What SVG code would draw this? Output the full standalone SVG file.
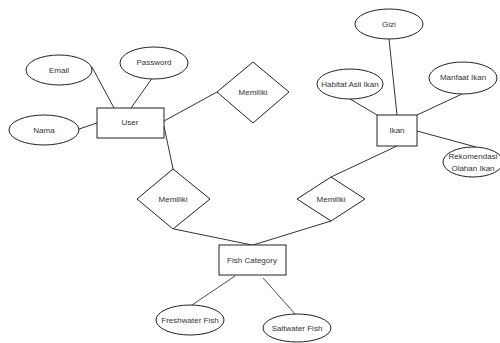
<svg xmlns="http://www.w3.org/2000/svg" width="500" height="343" viewBox="0 0 500 343">
<style>
.s{fill:#fff;stroke:#222;stroke-width:1}
.t{font-family:"Liberation Sans",Arial,sans-serif;font-size:8px;fill:#333;text-anchor:middle;dominant-baseline:central}
.c line{stroke:#333;stroke-width:1}
.c line.b{stroke:#4a4e6a}
</style>
<rect width="500" height="343" fill="#fff"/>
<g class="c">
<line x1="92" y1="67" x2="114" y2="108"/>
<line x1="153" y1="77" x2="131" y2="108"/>
<line x1="79" y1="129" x2="97" y2="123"/>
<line x1="164" y1="121" x2="217" y2="92"/>
<line x1="164" y1="126" x2="173" y2="169"/>
<line x1="174" y1="229" x2="252" y2="245"/>
<line x1="331" y1="221" x2="253" y2="245"/>
<line x1="331" y1="177" x2="397" y2="146"/>
<line x1="389" y1="39" x2="397" y2="115"/>
<line x1="350" y1="99" x2="377" y2="115"/>
<line x1="462" y1="94" x2="417" y2="115"/>
<line x1="417" y1="131" x2="476" y2="147"/>
<line class="b" x1="235" y1="276" x2="192" y2="305"/>
<line class="b" x1="263" y1="278" x2="296" y2="315"/>
</g>
<g id="email"><ellipse class="s" cx="59" cy="70" rx="33" ry="15"/><text class="t" x="59" y="70">Email</text></g>
<g id="password"><ellipse class="s" cx="154" cy="63" rx="34" ry="16"/><text class="t" x="154" y="62">Password</text></g>
<g id="nama"><ellipse class="s" cx="44" cy="130" rx="35" ry="15"/><text class="t" x="44" y="130">Nama</text></g>
<g id="user"><rect class="s" x="97" y="108" width="67" height="30"/><text class="t" x="130" y="122">User</text></g>
<g id="memiliki1"><polygon class="s" points="253,62 289,92 253,123 217,92"/><text class="t" x="253" y="92">Memiliki</text></g>
<g id="memiliki2"><polygon class="s" points="173,169 210,199 173,229 137,199"/><text class="t" x="173" y="199">Memiliki</text></g>
<g id="memiliki3"><polygon class="s" points="331,177 365,199 331,221 297,199"/><text class="t" x="331" y="199">Memiliki</text></g>
<g id="fishcategory"><rect class="s" x="219" y="245" width="67" height="30"/><text class="t" x="252" y="260">Fish Category</text></g>
<g id="freshwater"><ellipse class="s" cx="190" cy="320" rx="34" ry="15"/><text class="t" x="190" y="320">Freshwater Fish</text></g>
<g id="saltwater"><ellipse class="s" cx="297" cy="328" rx="34" ry="14"/><text class="t" x="297" y="328">Saltwater Fish</text></g>
<g id="ikan"><rect class="s" x="377" y="115" width="40" height="31"/><text class="t" x="397" y="130">Ikan</text></g>
<g id="gizi"><ellipse class="s" cx="389" cy="24" rx="34" ry="15"/><text class="t" x="389" y="24">Gizi</text></g>
<g id="habitat"><ellipse class="s" cx="350" cy="84" rx="33" ry="15"/><text class="t" x="350" y="84">Habitat Asli Ikan</text></g>
<g id="manfaat"><ellipse class="s" cx="463" cy="78" rx="34" ry="16"/><text class="t" x="463" y="77">Manfaat Ikan</text></g>
<g id="rekomendasi"><ellipse class="s" cx="473" cy="162" rx="30" ry="15"/><text class="t" x="473" y="156">Rekomendasi</text><text class="t" x="473" y="168">Olahan Ikan</text></g>
</svg>
